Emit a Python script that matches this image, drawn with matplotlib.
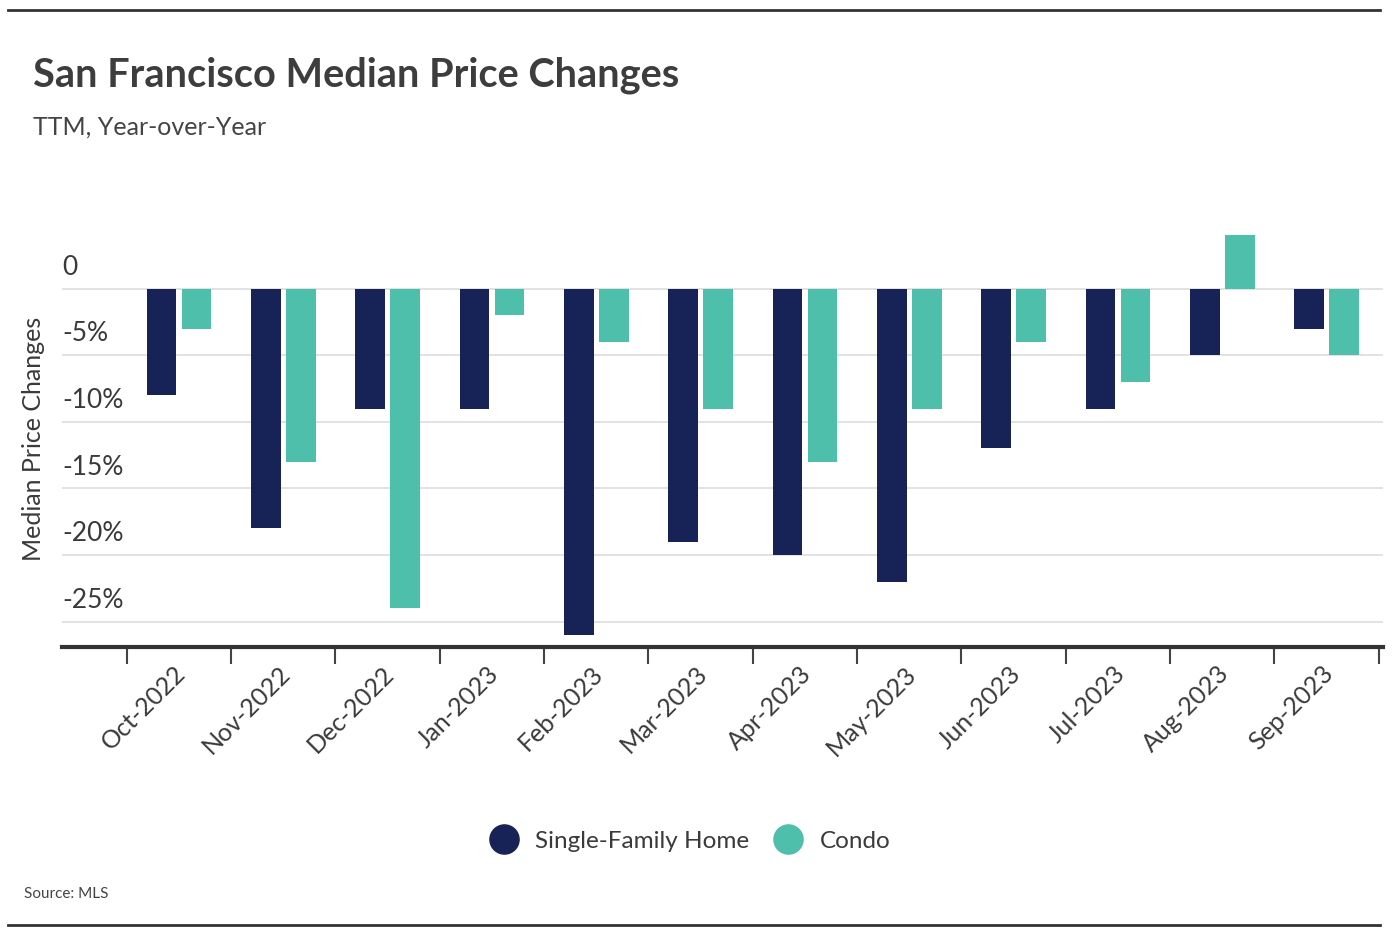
import matplotlib.pyplot as plt
from matplotlib.lines import Line2D
from matplotlib.transforms import blended_transform_factory
import numpy as np

# veriler
months = ["Oct-2022", "Nov-2022", "Dec-2022", "Jan-2023", "Feb-2023", "Mar-2023",
          "Apr-2023", "May-2023", "Jun-2023", "Jul-2023", "Aug-2023", "Sep-2023"]
sfh = [-8, -18, -9, -9, -26, -19, -20, -22, -12, -9, -5, -3]
condo = [-3, -13, -24, -2, -4, -9, -13, -9, -4, -7, 4, -5]
yticks = [0, -5, -10, -15, -20, -25]
ytick_labels = ["0", "-5%", "-10%", "-15%", "-20%", "-25%"]

navy = "#172257"
teal = "#4dbfab"
textc = "#3a3a3a"

plt.rcParams["font.family"] = ["Lato", "DejaVu Sans"]

fig = plt.figure(figsize=(13.92, 9.38), dpi=100)
ax = fig.add_axes([62 / 1392, 1 - 647 / 938, (1383 - 62) / 1392, (647 - 230) / 938])

x = np.arange(len(months))
w = 0.285
ax.bar(x - 0.168, sfh, width=w, color=navy, zorder=3)
ax.bar(x + 0.168, condo, width=w, color=teal, zorder=3)

ax.set_xlim(-1.121, 11.54)
ax.set_ylim(-26.9, 4.4)

# izgara cizgileri
for v in yticks:
    ax.axhline(v, color="#dddddd", lw=1.2, zorder=1)
ax.set_yticks([])
trans = blended_transform_factory(ax.transAxes, ax.transData)
for v, lab in zip(yticks, ytick_labels):
    ax.text(0.0, v + 1.6, lab, transform=trans, ha="left", va="center",
            fontsize=19, color=textc)

for s in ["top", "right", "left"]:
    ax.spines[s].set_visible(False)
ax.spines["bottom"].set_color("#333333")
ax.spines["bottom"].set_linewidth(3)

ax.set_xticks(np.arange(len(months) + 1) - 0.5)
ax.set_xticklabels([])
ax.tick_params(axis="x", length=12, width=1.5, color="#444444", direction="out")
for i, m in enumerate(months):
    ax.text(i - 0.05, -28.0, m, ha="right", va="top", rotation=45,
            rotation_mode="anchor", fontsize=18, color=textc)

ax.set_ylabel("Median Price Changes", fontsize=18, color=textc)
ax.yaxis.set_label_coords(-0.013, 0.5)

# basliklar
fig.text(33 / 1392, 1 - 75 / 938, "San Francisco Median Price Changes", fontsize=28.6,
         fontweight="bold", color="#3d3d3d", va="center", ha="left")
fig.text(33 / 1392, 1 - 127 / 938, "TTM, Year-over-Year", fontsize=18,
         color="#444444", va="center", ha="left")
fig.text(24 / 1392, 1 - 894 / 938, "Source: MLS", fontsize=11,
         color="#444444", va="center", ha="left")

handles = [Line2D([], [], marker="o", ls="", markersize=21, color=navy),
           Line2D([], [], marker="o", ls="", markersize=21, color=teal)]
fig.legend(handles, ["Single-Family Home", "Condo"], loc="center",
           bbox_to_anchor=(685 / 1392, 1 - 841 / 938), ncol=2, frameon=False,
           fontsize=17.5, handletextpad=0.3, columnspacing=0.6, labelcolor=textc)

# ust ve alt cizgiler
fig.add_artist(Line2D([8 / 1392, 1380 / 1392], [1 - 10 / 938, 1 - 10 / 938],
                      color="#333333", lw=2))
fig.add_artist(Line2D([8 / 1392, 1380 / 1392], [1 - 925 / 938, 1 - 925 / 938],
                      color="#333333", lw=2))

fig.savefig("out.png", dpi=100)
